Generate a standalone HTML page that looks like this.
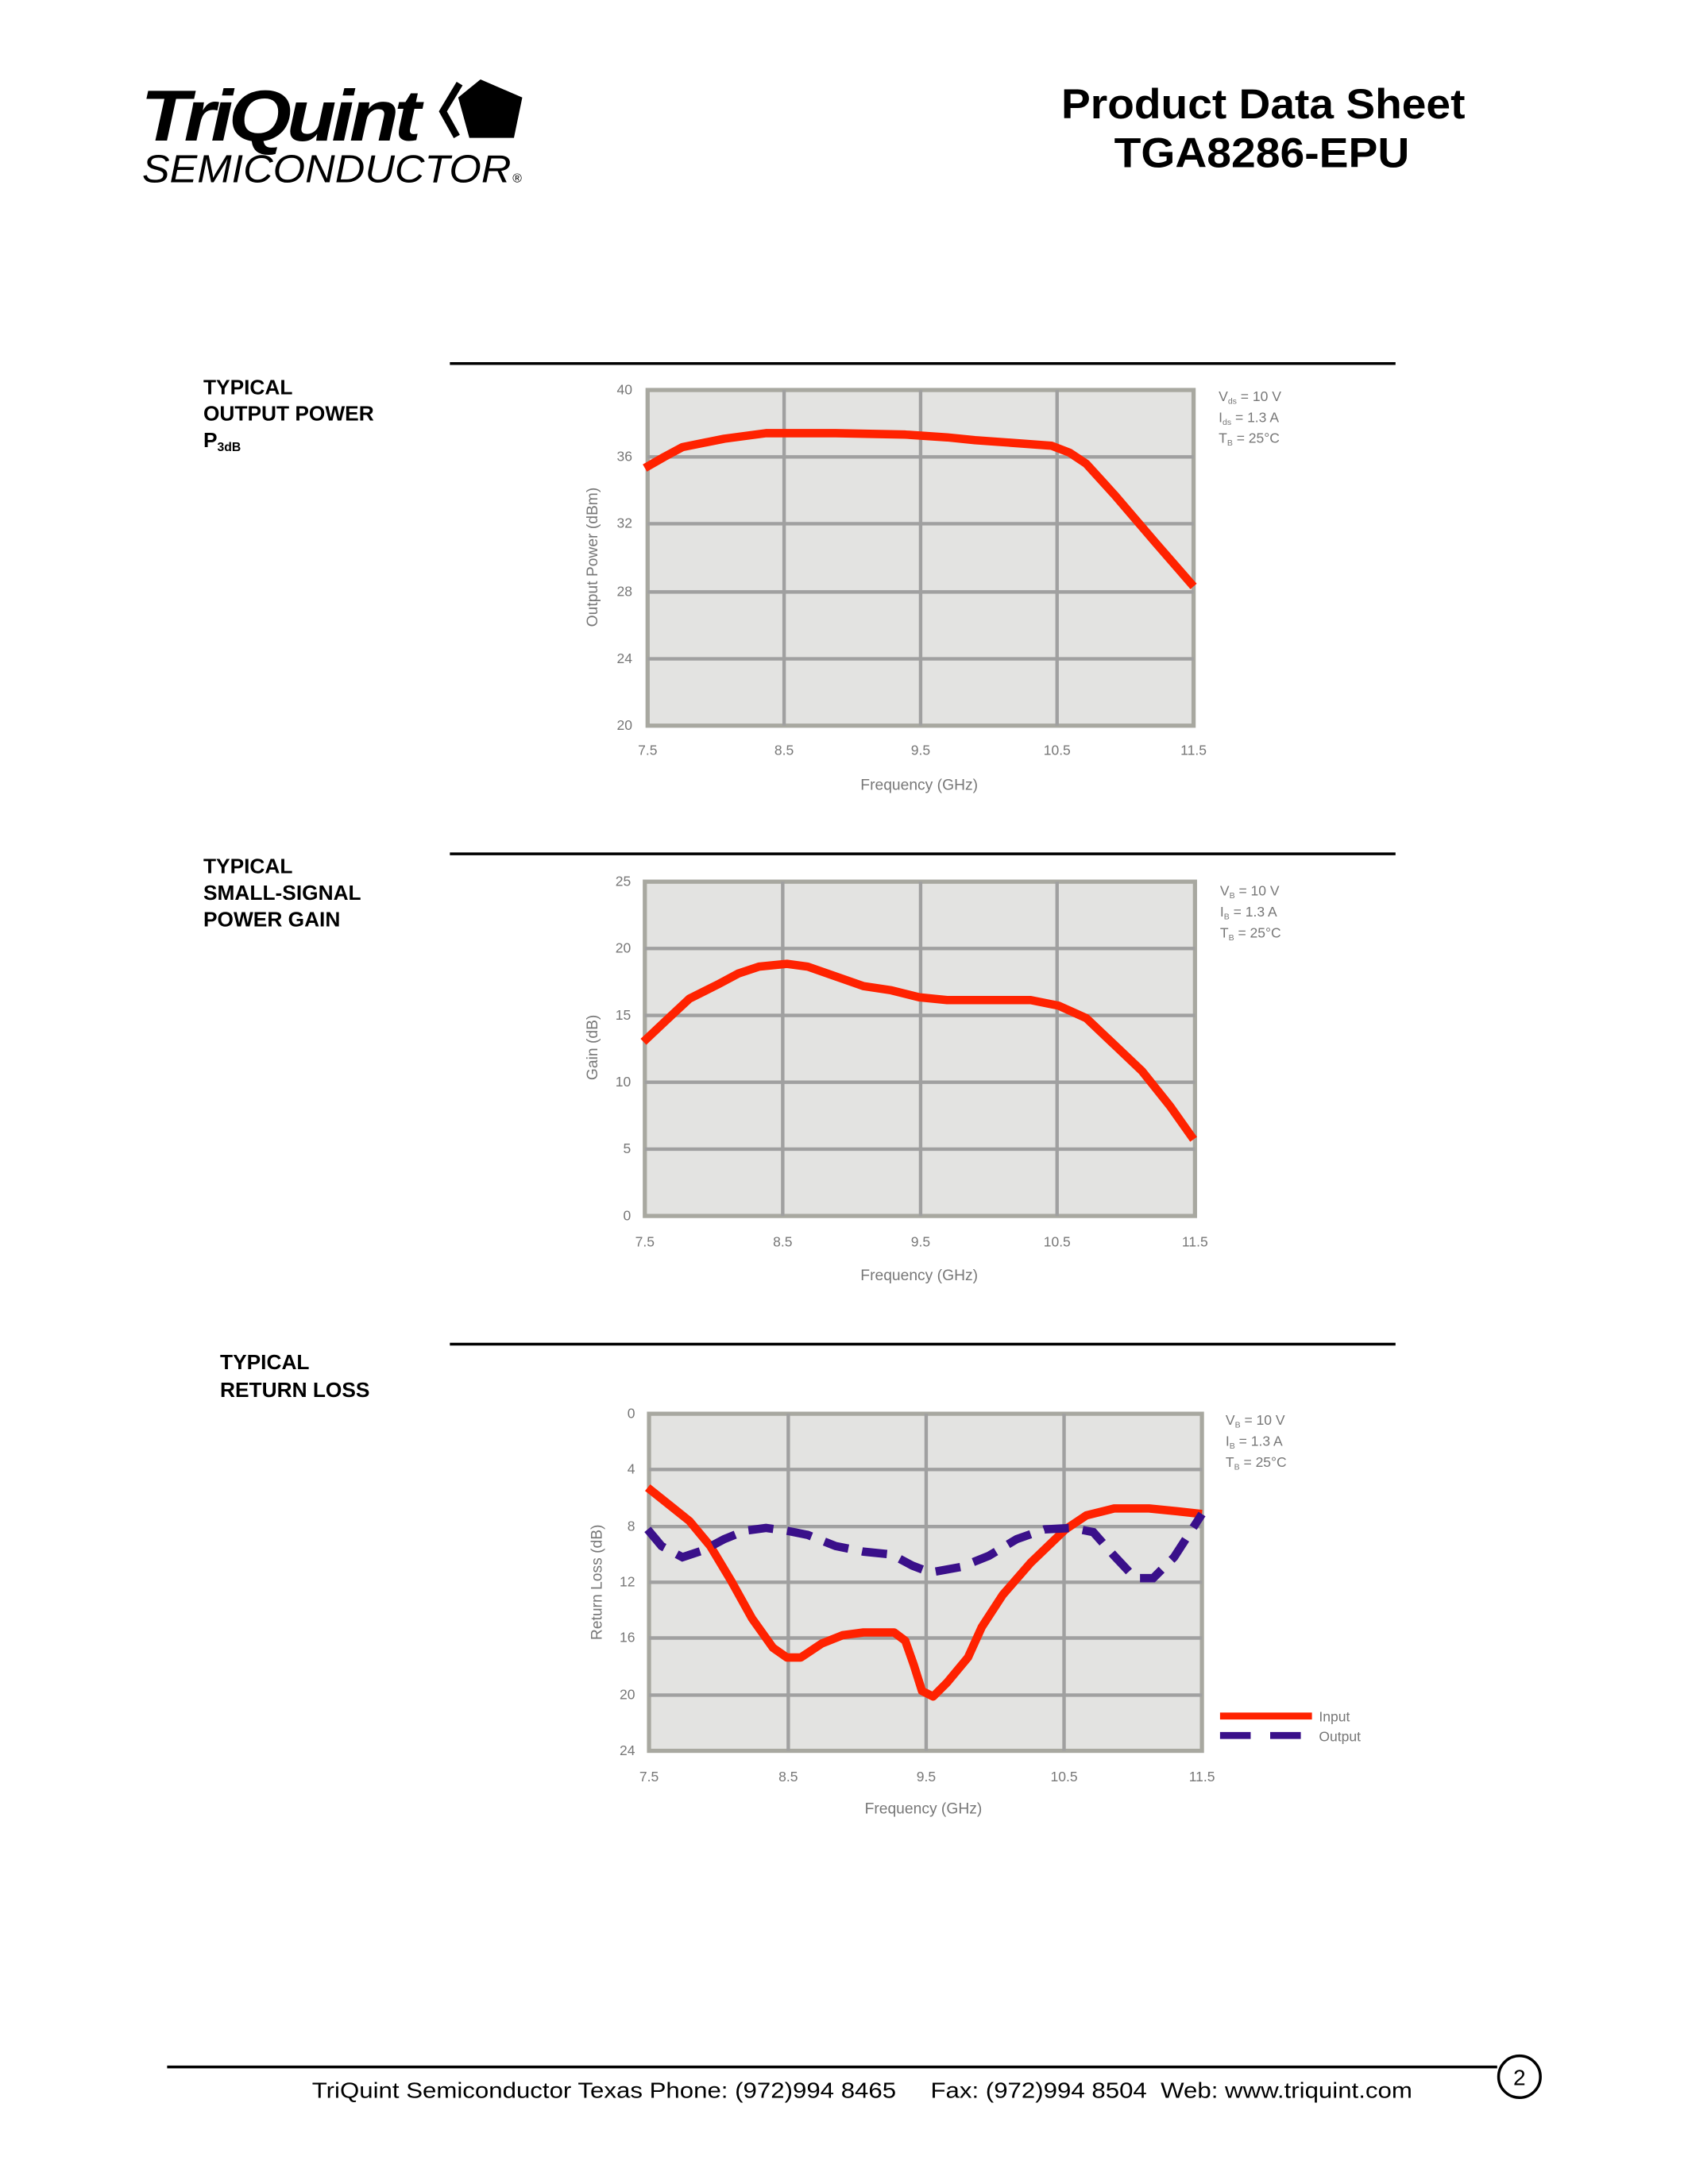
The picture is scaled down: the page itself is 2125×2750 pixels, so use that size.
<!DOCTYPE html>
<html><head><meta charset="utf-8"><style>
html,body{margin:0;padding:0;background:#fff;}
svg{display:block;}
text{font-family:"Liberation Sans",sans-serif;}
</style></head><body>
<svg width="2125" height="2750" viewBox="0 0 1212 1568" preserveAspectRatio="none" xmlns="http://www.w3.org/2000/svg">
<!-- Logo -->
<text x="101" y="101" font-size="52" font-weight="bold" font-style="italic" letter-spacing="-3" textLength="198" lengthAdjust="spacingAndGlyphs">TriQuint</text>
<text x="102" y="131" font-size="28" font-style="italic" textLength="265" lengthAdjust="spacingAndGlyphs">SEMICONDUCTOR</text>
<text x="368" y="131" font-size="9">®</text>
<polygon points="345,57 375,70 369,99 337,99 329,70" fill="#000"/>
<polyline points="330,60 318,80 328,98" fill="none" stroke="#000" stroke-width="5"/>
<!-- Title -->
<text x="907" y="85" font-size="30" font-weight="bold" text-anchor="middle" textLength="290" lengthAdjust="spacingAndGlyphs">Product Data Sheet</text>
<text x="906" y="120" font-size="30" font-weight="bold" text-anchor="middle" textLength="212" lengthAdjust="spacingAndGlyphs">TGA8286-EPU</text>

<g font-size="15" font-weight="bold">
<text x="146" y="283">TYPICAL</text>
<text x="146" y="302">OUTPUT POWER</text>
<text x="146" y="321">P<tspan font-size="9" dy="3">3dB</tspan></text>
<text x="146" y="627">TYPICAL</text>
<text x="146" y="646">SMALL-SIGNAL</text>
<text x="146" y="665">POWER GAIN</text>
<text x="158" y="983">TYPICAL</text>
<text x="158" y="1003">RETURN LOSS</text>
</g>
<g stroke="#000" stroke-width="2">
<line x1="323" y1="261" x2="1002" y2="261"/>
<line x1="323" y1="613" x2="1002" y2="613"/>
<line x1="323" y1="965" x2="1002" y2="965"/>
</g>

<!-- Chart 1 -->
<g>
<rect x="465" y="280" width="392" height="241" fill="#e3e3e1" stroke="#a8a8a0" stroke-width="3"/>
<g stroke="#a0a0a0" stroke-width="2.5">
<line x1="465" y1="328" x2="857" y2="328"/><line x1="465" y1="376" x2="857" y2="376"/><line x1="465" y1="425" x2="857" y2="425"/><line x1="465" y1="473" x2="857" y2="473"/>
<line x1="563" y1="280" x2="563" y2="521"/><line x1="661" y1="280" x2="661" y2="521"/><line x1="759" y1="280" x2="759" y2="521"/>
</g>
<g font-size="10" fill="#777" text-anchor="end">
<text x="454" y="283">40</text><text x="454" y="331">36</text><text x="454" y="379">32</text><text x="454" y="428">28</text><text x="454" y="476">24</text><text x="454" y="524">20</text>
</g>
<g font-size="10" fill="#777" text-anchor="middle">
<text x="465" y="542">7.5</text><text x="563" y="542">8.5</text><text x="661" y="542">9.5</text><text x="759" y="542">10.5</text><text x="857" y="542">11.5</text>
<text x="660" y="567" font-size="11">Frequency (GHz)</text>
<text transform="translate(429,400) rotate(-90)" font-size="11">Output Power (dBm)</text>
</g>
<g font-size="10" fill="#777"><text x="875" y="288">V<tspan font-size="6" dy="2">ds</tspan><tspan dy="-2"> = 10 V</tspan></text><text x="875" y="303">I<tspan font-size="6" dy="2">ds</tspan><tspan dy="-2"> = 1.3 A</tspan></text><text x="875" y="318">T<tspan font-size="6" dy="2">B</tspan><tspan dy="-2"> = 25°C</tspan></text></g>
<polyline points="463,336 477,328 490,321 520,315 550,311 600,311 650,312 680,314 700,316 755,320 768,325 780,333 800,355 830,390 857,421" fill="none" stroke="#ff2200" stroke-width="6" stroke-linejoin="round"/>
</g>

<!-- Chart 2 -->
<g>
<rect x="463" y="633" width="395" height="240" fill="#e3e3e1" stroke="#a8a8a0" stroke-width="3"/>
<g stroke="#a0a0a0" stroke-width="2.5">
<line x1="463" y1="681" x2="858" y2="681"/><line x1="463" y1="729" x2="858" y2="729"/><line x1="463" y1="777" x2="858" y2="777"/><line x1="463" y1="825" x2="858" y2="825"/>
<line x1="562" y1="633" x2="562" y2="873"/><line x1="661" y1="633" x2="661" y2="873"/><line x1="759" y1="633" x2="759" y2="873"/>
</g>
<g font-size="10" fill="#777" text-anchor="end">
<text x="453" y="636">25</text><text x="453" y="684">20</text><text x="453" y="732">15</text><text x="453" y="780">10</text><text x="453" y="828">5</text><text x="453" y="876">0</text>
</g>
<g font-size="10" fill="#777" text-anchor="middle">
<text x="463" y="895">7.5</text><text x="562" y="895">8.5</text><text x="661" y="895">9.5</text><text x="759" y="895">10.5</text><text x="858" y="895">11.5</text>
<text x="660" y="919" font-size="11">Frequency (GHz)</text>
<text transform="translate(429,752) rotate(-90)" font-size="11">Gain (dB)</text>
</g>
<g font-size="10" fill="#777"><text x="876" y="643">V<tspan font-size="6" dy="2">B</tspan><tspan dy="-2"> = 10 V</tspan></text><text x="876" y="658">I<tspan font-size="6" dy="2">B</tspan><tspan dy="-2"> = 1.3 A</tspan></text><text x="876" y="673">T<tspan font-size="6" dy="2">B</tspan><tspan dy="-2"> = 25°C</tspan></text></g>
<polyline points="462,748 480,731 495,717 515,707 530,699 545,694 565,692 580,694 600,701 620,708 640,711 660,716 680,718 740,718 760,722 780,731 800,750 820,769 840,794 857,818" fill="none" stroke="#ff2200" stroke-width="6" stroke-linejoin="round"/>
</g>

<!-- Chart 3 -->
<g>
<rect x="466" y="1015" width="397" height="242" fill="#e3e3e1" stroke="#a8a8a0" stroke-width="3"/>
<g stroke="#a0a0a0" stroke-width="2.5">
<line x1="466" y1="1055" x2="863" y2="1055"/><line x1="466" y1="1096" x2="863" y2="1096"/><line x1="466" y1="1136" x2="863" y2="1136"/><line x1="466" y1="1176" x2="863" y2="1176"/><line x1="466" y1="1217" x2="863" y2="1217"/>
<line x1="566" y1="1015" x2="566" y2="1257"/><line x1="665" y1="1015" x2="665" y2="1257"/><line x1="764" y1="1015" x2="764" y2="1257"/>
</g>
<g font-size="10" fill="#777" text-anchor="end">
<text x="456" y="1018">0</text><text x="456" y="1058">4</text><text x="456" y="1099">8</text><text x="456" y="1139">12</text><text x="456" y="1179">16</text><text x="456" y="1220">20</text><text x="456" y="1260">24</text>
</g>
<g font-size="10" fill="#777" text-anchor="middle">
<text x="466" y="1279">7.5</text><text x="566" y="1279">8.5</text><text x="665" y="1279">9.5</text><text x="764" y="1279">10.5</text><text x="863" y="1279">11.5</text>
<text x="663" y="1302" font-size="11">Frequency (GHz)</text>
<text transform="translate(432,1136) rotate(-90)" font-size="11">Return Loss (dB)</text>
</g>
<g font-size="10" fill="#777"><text x="880" y="1023">V<tspan font-size="6" dy="2">B</tspan><tspan dy="-2"> = 10 V</tspan></text><text x="880" y="1038">I<tspan font-size="6" dy="2">B</tspan><tspan dy="-2"> = 1.3 A</tspan></text><text x="880" y="1053">T<tspan font-size="6" dy="2">B</tspan><tspan dy="-2"> = 25°C</tspan></text></g>
<polyline points="465,1068 480,1080 495,1092 510,1110 525,1135 540,1162 555,1183 565,1190 575,1190 590,1180 605,1174 620,1172 642,1172 650,1178 656,1195 662,1214 670,1218 680,1208 695,1190 705,1168 720,1145 740,1122 765,1098 780,1088 800,1083 825,1083 845,1085 863,1087" fill="none" stroke="#ff2200" stroke-width="6" stroke-linejoin="round"/>
<polyline points="465,1098 475,1110 490,1118 505,1113 520,1105 535,1099 550,1097 565,1099 580,1102 600,1110 620,1114 640,1116 655,1124 668,1129 690,1125 710,1117 730,1105 750,1098 770,1097 785,1100 800,1117 815,1133 828,1133 843,1118 863,1087" fill="none" stroke="#3a108a" stroke-width="6" stroke-dasharray="18,10"/>
<line x1="876" y1="1232" x2="942" y2="1232" stroke="#ff2200" stroke-width="5"/>
<line x1="876" y1="1246" x2="942" y2="1246" stroke="#3a108a" stroke-width="5" stroke-dasharray="22,14"/>
<g font-size="10" fill="#777"><text x="947" y="1236">Input</text><text x="947" y="1250">Output</text></g>
</g>

<!-- Footer -->
<line x1="120" y1="1484" x2="1075" y2="1484" stroke="#000" stroke-width="2"/>
<circle cx="1091" cy="1491" r="15" fill="none" stroke="#000" stroke-width="2"/>
<text x="1091" y="1497" font-size="16" text-anchor="middle">2</text>
<text x="619" y="1506" font-size="16" text-anchor="middle" textLength="790" lengthAdjust="spacingAndGlyphs" xml:space="preserve">TriQuint Semiconductor Texas Phone: (972)994 8465     Fax: (972)994 8504  Web: www.triquint.com</text>
</svg>
</body></html>
